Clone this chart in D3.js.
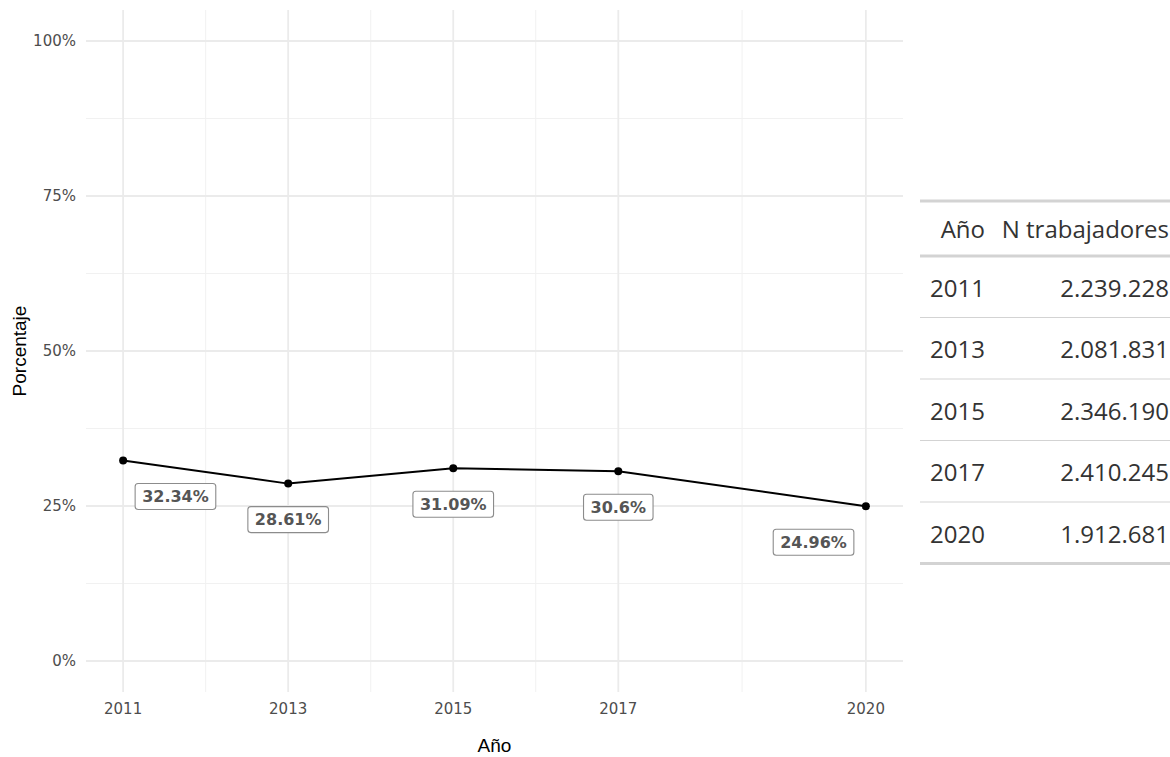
<!DOCTYPE html>
<meta charset="utf-8">
<style>
    body { margin: 0; background: #fff; }
    .tick-label { font: 15px "DejaVu Sans", sans-serif; fill: #4d4d4d; }
    .axis-title { font: 19px "Liberation Sans", Arial, sans-serif; fill: #000; }
    .pct-label text { font: bold 16px "DejaVu Sans", sans-serif; fill: #555; }
    .tbl text { font: 24px "Open Sans", "Noto Sans", sans-serif; fill: #333; }
</style>

<svg width="1170" height="757"></svg>
<script src="https://cdn.jsdelivr.net/npm/d3@7/dist/d3.min.js"></script>

<script>
    // datos
    var years = [2011, 2013, 2015, 2017, 2020];
    var pct = [32.34, 28.61, 31.09, 30.6, 24.96];
    var workers = [2239228, 2081831, 2346190, 2410245, 1912681];
    var yBreaks = [0, 25, 50, 75, 100];
    var yMinor = [12.5, 37.5, 62.5, 87.5];

    var svg = d3.select("svg");
    var panel = { left: 86, right: 903, top: 10, bottom: 692 };

    // escalas con expansion del 5% como ggplot
    var xr = d3.extent(years), xpad = (xr[1] - xr[0]) * 0.05;
    var x = d3.scaleLinear()
        .domain([xr[0] - xpad, xr[1] + xpad])
        .range([panel.left, panel.right]);
    var y = d3.scaleLinear()
        .domain([-5, 105])
        .range([panel.bottom, panel.top]);

    // breaks menores del eje x: puntos medios entre años
    var xMinor = d3.pairs(years).map(function (p) { return (p[0] + p[1]) / 2; });

    var grid = svg.append("g");
    grid.selectAll(".ymin").data(yMinor).enter().append("line")
        .attr("x1", panel.left).attr("x2", panel.right)
        .attr("y1", y).attr("y2", y)
        .style("stroke", "#f1f1f1").style("stroke-width", 1);
    grid.selectAll(".xmin").data(xMinor).enter().append("line")
        .attr("y1", panel.top).attr("y2", panel.bottom)
        .attr("x1", x).attr("x2", x)
        .style("stroke", "#f1f1f1").style("stroke-width", 1);
    grid.selectAll(".ymaj").data(yBreaks).enter().append("line")
        .attr("x1", panel.left).attr("x2", panel.right)
        .attr("y1", y).attr("y2", y)
        .style("stroke", "#ebebeb").style("stroke-width", 1.8);
    grid.selectAll(".xmaj").data(years).enter().append("line")
        .attr("y1", panel.top).attr("y2", panel.bottom)
        .attr("x1", x).attr("x2", x)
        .style("stroke", "#ebebeb").style("stroke-width", 1.8);

    // etiquetas de los ejes
    svg.append("g").selectAll("text").data(yBreaks).enter().append("text")
        .attr("class", "tick-label")
        .attr("x", panel.left - 10)
        .attr("y", y)
        .attr("dy", "0.36em")
        .style("text-anchor", "end")
        .text(function (d) { return d + "%"; });
    svg.append("g").selectAll("text").data(years).enter().append("text")
        .attr("class", "tick-label")
        .attr("x", x)
        .attr("y", panel.bottom + 22)
        .style("text-anchor", "middle")
        .text(function (d) { return d; });

    svg.append("text").attr("class", "axis-title")
        .attr("x", (panel.left + panel.right) / 2)
        .attr("y", 752)
        .style("text-anchor", "middle")
        .text("Año");
    svg.append("text").attr("class", "axis-title")
        .attr("transform", "translate(26," + (panel.top + panel.bottom) / 2 + ") rotate(-90)")
        .style("text-anchor", "middle")
        .text("Porcentaje");

    // linea y puntos
    var pts = years.map(function (d, i) { return { year: d, v: pct[i] }; });
    svg.append("path").datum(pts)
        .attr("d", d3.line().x(function (d) { return x(d.year); }).y(function (d) { return y(d.v); }))
        .style("fill", "none").style("stroke", "#000").style("stroke-width", 2);
    svg.append("g").selectAll("circle").data(pts).enter().append("circle")
        .attr("cx", function (d) { return x(d.year); })
        .attr("cy", function (d) { return y(d.v); })
        .attr("r", 4);

    // etiquetas (bajo el punto, contenidas entre el primer y ultimo año)
    var lo = x(xr[0]) + 12, hi = x(xr[1]) - 12;
    var lab = svg.append("g").selectAll("g").data(pts).enter().append("g")
        .attr("class", "pct-label");
    lab.append("text")
        .attr("y", function (d) { return y(d.v - 5.8); })
        .attr("dy", "0.36em")
        .style("text-anchor", "middle")
        .text(function (d) { return d.v + "%"; });
    lab.each(function (d) {
        var g = d3.select(this), t = g.select("text");
        var w = t.node().getComputedTextLength() + 14, h = 26;
        var cx = Math.max(lo + w / 2, Math.min(hi - w / 2, x(d.year)));
        t.attr("x", cx);
        g.insert("rect", "text")
            .attr("x", cx - w / 2).attr("y", y(d.v - 5.8) - h / 2)
            .attr("width", w).attr("height", h)
            .attr("rx", 3)
            .style("fill", "#fff").style("stroke", "#8c8c8c").style("stroke-width", 1.1);
    });

    // tabla
    var fmt = d3.formatLocale({ decimal: ",", thousands: ".", grouping: [3], currency: ["", ""] }).format(",d");
    var tbl = svg.append("g").attr("class", "tbl");
    var tx0 = 920, tx1 = 1170, tTop = 201, headH = 55, rowH = 61.5;
    tbl.append("text").attr("x", 985).attr("y", tTop + headH / 2).attr("dy", "0.4em")
        .style("text-anchor", "end").text("Año");
    tbl.append("text").attr("x", 1169).attr("y", tTop + headH / 2).attr("dy", "0.4em")
        .style("text-anchor", "end").text("N trabajadores");
    var rows = tbl.selectAll(".row").data(years).enter().append("g")
        .attr("class", "row")
        .attr("transform", function (d, i) { return "translate(0," + (tTop + headH + i * rowH) + ")"; });
    rows.append("text").attr("x", 930).attr("y", rowH / 2).attr("dy", "0.42em")
        .text(function (d) { return d; });
    rows.append("text").attr("x", 1169).attr("y", rowH / 2).attr("dy", "0.42em")
        .style("text-anchor", "end")
        .text(function (d, i) { return fmt(workers[i]); });
    rows.filter(function (d, i) { return i > 0; }).append("line")
        .attr("x1", tx0).attr("x2", tx1).attr("y1", 0).attr("y2", 0)
        .style("stroke", "#d3d3d3").style("stroke-width", 1.2);
    [tTop, tTop + headH, tTop + headH + years.length * rowH].forEach(function (yy) {
        tbl.append("line").attr("x1", tx0).attr("x2", tx1).attr("y1", yy).attr("y2", yy)
            .style("stroke", "#d3d3d3").style("stroke-width", 3);
    });
</script>
